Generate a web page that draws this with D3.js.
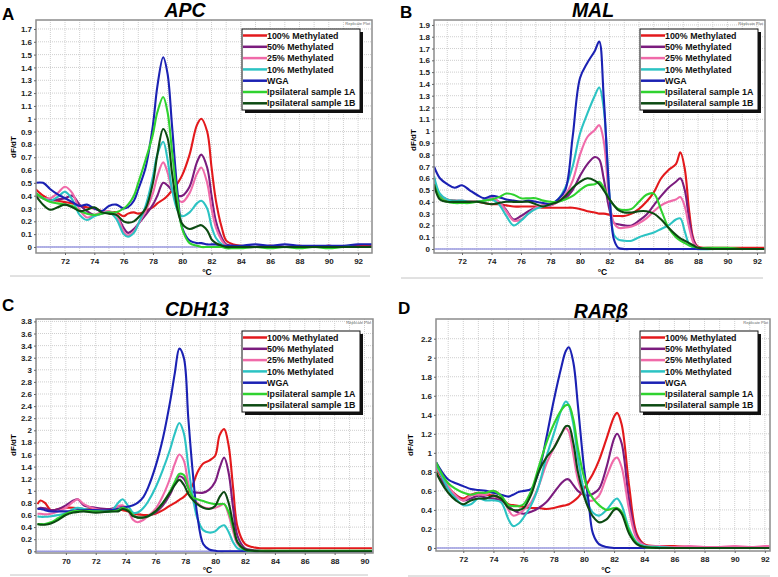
<!DOCTYPE html>
<html><head><meta charset="utf-8">
<script src="https://cdn.jsdelivr.net/npm/d3@7"></script>
<style>body{margin:0;background:#fff}svg{display:block}text{font-family:"Liberation Sans",Arial,sans-serif}</style>
</head><body><svg id="c" width="778" height="577"></svg>
<script>
const seriesNames = ["100% Methylated","50% Methylated","25% Methylated","10% Methylated","WGA","Ipsilateral sample 1A","Ipsilateral sample 1B"];
const seriesColors = ["#e3191c","#7b1c7e","#f06aa9","#2cc3c3","#1b21b3","#2fd22f","#0c4a12"];

// ---------- Panel A : APC ----------
const apcTemps = [70,70.5,71,71.5,72,72.5,73,73.5,74,74.5,75,75.5,76, 76.3,76.7,77,77.5,78,78.3,78.7,79,79.3,79.7, 80,80.5,81,81.3,81.7,82,82.3,82.7,83,83.5, 84,85,86,87,88,89,90,91,92,93];
const apcM100 = [.45,.40,.37,.36,.35,.34,.32,.31,.30,.28,.27,.27,.24, .26,.27,.26,.28,.31,.34,.37,.40,.44,.50, .56,.72,.95,1.00,.90,.62,.36,.15,.05,.02, .01,0,.01,0,.01,0,.01,0,.01,.01];
const apcM50  = [.42,.38,.36,.37,.38,.40,.33,.28,.25,.26,.27,.25,.15, .11,.14,.18,.25,.33,.40,.50,.48,.44,.40, .40,.47,.66,.72,.62,.40,.20,.07,.02,.01, 0,0,.01,0,0,0,.01,0,0,0];
const apcM25  = [.40,.38,.38,.42,.47,.42,.29,.23,.25,.27,.28,.25,.12, .09,.12,.18,.28,.42,.55,.66,.58,.45,.37, .35,.42,.57,.62,.50,.30,.15,.05,.01,0, 0,0,0,0,0,0,0,0,0,0];
const apcM10  = [.42,.38,.36,.39,.43,.37,.25,.21,.24,.26,.27,.22,.10, .08,.11,.18,.32,.55,.72,.82,.68,.45,.28, .24,.27,.34,.36,.30,.16,.07,.02,0,0, 0,0,0,0,0,0,0,0,0,0];
const apcWGA  = [.50,.50,.45,.41,.38,.35,.32,.33,.30,.28,.32,.33,.30, .31,.36,.45,.62,.95,1.25,1.48,1.35,.95,.40, .15,.05,.03,.03,.02,.02,.02,.01,.01,.01, .01,.02,.01,.02,.01,.01,.01,.01,.02,.02];
const apc1A   = [.42,.38,.35,.34,.33,.32,.28,.26,.25,.26,.27,.27,.30, .33,.40,.50,.68,.88,1.05,1.17,1.05,.75,.35, .14,.03,.01,0,0,0,0,0,-.01,-.01, -.01,0,-.01,0,-.01,0,-.01,0,0,0];
const apc1B   = [.40,.33,.29,.31,.33,.31,.28,.29,.31,.27,.26,.25,.20, .19,.20,.23,.30,.50,.72,.92,.85,.58,.28, .18,.14,.16,.17,.13,.06,.03,.01,0,0, 0,0,0,0,0,0,0,0,0,0];
const apcYTicks = [0,0.1,0.2,0.3,0.4,0.5,0.6,0.7,0.8,0.9,1,1.1,1.2,1.3,1.4,1.5,1.6,1.7];
const apcXTicks = [72,74,76,78,80,82,84,86,88,90,92];

// ---------- Panel B : MAL ----------
const malTemps = [70.1,70.5,71,71.5,72,72.5,73,73.5,74,74.5,75,75.5, 76,76.5,77,77.5,78,78.5,79,79.5,80,80.5,81,81.3, 81.6,82,82.3,82.6,83,83.5,84,84.5,85,85.5,86,86.5, 86.8,87.1,87.4,87.7,88,89,90,91,92,92.5];
const malM100 = [.60,.45,.42,.41,.40,.40,.40,.39,.38,.38,.37,.36, .36,.36,.36,.35,.35,.35,.35,.35,.34,.32,.31,.30, .30,.29,.28,.28,.28,.30,.34,.40,.48,.60,.67,.72, .82,.68,.32,.08,.02,.01,.01,.01,.01,.01];
const malM50  = [.60,.44,.41,.40,.40,.40,.40,.41,.43,.40,.33,.25, .28,.32,.35,.37,.37,.40,.43,.50,.62,.72,.78,.76, .60,.33,.22,.21,.20,.20,.24,.29,.37,.45,.52,.57, .60,.50,.25,.07,.01,0,0,0,0,0];
const malM25  = [.60,.44,.41,.41,.41,.40,.40,.41,.43,.40,.32,.24, .25,.30,.35,.37,.37,.40,.46,.58,.80,.95,1.01,1.05, .92,.40,.22,.18,.18,.19,.22,.26,.32,.37,.40,.42, .44,.36,.18,.05,.01,0,0,0,0,0];
const malM10  = [.62,.47,.42,.41,.41,.40,.40,.41,.42,.38,.28,.20, .24,.30,.34,.36,.38,.42,.52,.70,.98,1.15,1.30,1.37, 1.20,.45,.12,.08,.07,.07,.10,.12,.14,.17,.20,.25, .26,.15,.04,.01,0,0,0,0,0,0];
const malWGA  = [.70,.60,.55,.52,.54,.50,.46,.43,.45,.44,.42,.41, .40,.41,.40,.39,.38,.42,.50,.95,1.45,1.58,1.68,1.76, 1.30,.45,.08,.01,0,0,0,0,0,0,0,0, 0,0,0,0,0,0,0,0,0,0];
const mal1A   = [.55,.44,.40,.39,.39,.39,.40,.41,.42,.44,.47,.46, .43,.43,.43,.41,.40,.40,.42,.45,.50,.54,.55,.57, .52,.42,.37,.34,.33,.34,.40,.46,.47,.33,.18,.10, .07,.05,.03,.02,.01,.01,.01,0,0,0];
const mal1B   = [.55,.42,.40,.40,.40,.40,.40,.39,.38,.39,.40,.40, .40,.40,.38,.36,.38,.40,.45,.52,.57,.60,.58,.55, .50,.42,.37,.33,.31,.31,.32,.32,.30,.25,.18,.12, .09,.07,.05,.03,.01,0,0,0,0,0];
const malYTicks = [0,0.1,0.2,0.3,0.4,0.5,0.6,0.7,0.8,0.9,1,1.1,1.2,1.3,1.4,1.5,1.6,1.7,1.8,1.9];
const malXTicks = [72,74,76,78,80,82,84,86,88,90,92];

// ---------- Panel C : CDH13 ----------
const cdhTemps = [68.1,68.3,68.6,69,69.5,70,70.5,70.8,71.2,72,73,73.5, 73.8,74.2,74.5,74.8,75.2,75.5,76,76.5,77,77.3,77.6,77.9, 78.2,78.5,78.8,79.2,79.6,80,80.3,80.6,80.9,81.2,81.5,82, 82.5,83,84,85,86,87,88,89,90,90.5];
const cdhM100 = [.78,.84,.80,.68,.70,.72,.72,.71,.70,.70,.70,.70, .68,.66,.63,.61,.60,.60,.62,.68,.76,.80,.85,.90, .98,1.10,1.30,1.45,1.50,1.58,1.92,2.02,1.75,1.05,.40,.12, .07,.05,.05,.05,.05,.05,.05,.05,.05,.05];
const cdhM50  = [.70,.72,.71,.68,.70,.76,.84,.86,.76,.72,.70,.74, .74,.68,.60,.56,.56,.58,.64,.76,.95,1.12,1.24,1.20, 1.05,.98,.97,.97,1.02,1.15,1.38,1.55,1.30,.72,.25,.05, .02,.01,0,0,0,0,0,0,0,0];
const cdhM25  = [.62,.62,.61,.62,.66,.72,.82,.86,.78,.70,.68,.75, .76,.66,.52,.48,.52,.58,.70,.92,1.22,1.45,1.60,1.50, 1.12,.90,.80,.73,.71,.72,.75,.78,.60,.33,.12,.02, 0,0,0,0,0,0,0,0,0,0];
const cdhM10  = [.58,.57,.57,.58,.60,.63,.70,.72,.70,.67,.66,.80, .86,.74,.64,.64,.72,.82,1.05,1.35,1.70,1.95,2.12,1.95, 1.40,.90,.55,.35,.31,.33,.40,.43,.32,.15,.05,.01, 0,0,0,0,0,0,0,0,0,0];
const cdhWGA  = [.70,.70,.68,.66,.66,.66,.67,.68,.68,.68,.68,.70, .72,.74,.76,.80,.90,1.05,1.40,1.87,2.50,2.95,3.35,3.20, 2.20,1.30,.60,.12,.03,.01,0,0,0,0,0,0, 0,0,0,0,0,0,0,0,0,0];
const cdh1A   = [.45,.45,.45,.48,.55,.62,.66,.67,.67,.66,.66,.68, .72,.68,.60,.56,.56,.58,.66,.80,1.00,1.15,1.28,1.26, 1.05,.90,.86,.83,.80,.78,.78,.78,.65,.40,.15,.02, .01,.01,.01,.01,.01,.01,.01,.01,.01,.01];
const cdh1B   = [.45,.44,.44,.46,.52,.60,.64,.65,.66,.64,.66,.66, .70,.66,.58,.56,.56,.58,.66,.80,.98,1.10,1.18,1.10, .95,.85,.78,.72,.70,.75,.90,.98,.80,.45,.15,.03, .01,0,0,0,0,0,0,0,0,0];
const cdhYTicks = [0,0.2,0.4,0.6,0.8,1,1.2,1.4,1.6,1.8,2,2.2,2.4,2.6,2.8,3,3.2,3.4,3.6,3.8];
const cdhXTicks = [70,72,74,76,78,80,82,84,86,88,90];

// ---------- Panel D : RARβ ----------
const rarTemps = [70.2,70.5,71,71.5,72,72.5,73,73.5,74,74.5,75, 75.3,75.7,76,76.5,77,77.5,78,78.5,78.8,79,79.3, 79.6,80,80.3,80.6,81,81.5,82,82.2,82.5,83,83.5, 84,85,86,87,88,89,90,91,92,92.3];
const rarM100 = [.85,.76,.64,.56,.52,.56,.58,.56,.55,.52,.46, .45,.44,.43,.42,.42,.41,.42,.44,.45,.46,.49, .53,.62,.70,.78,.92,1.15,1.38,1.42,1.30,.65,.15, .04,.02,.02,.01,.01,.01,.01,.01,.01,.01];
const rarM50  = [.78,.72,.62,.55,.50,.52,.55,.53,.52,.50,.44, .40,.37,.36,.38,.42,.48,.58,.68,.72,.72,.66, .60,.56,.55,.57,.62,.85,1.15,1.20,1.10,.50,.12, .03,.01,0,0,0,0,0,0,0,0];
const rarM25  = [.85,.78,.65,.55,.50,.55,.56,.56,.60,.55,.40, .34,.36,.40,.48,.65,.88,1.05,1.20,1.26,1.22,.98, .72,.55,.50,.50,.55,.75,.93,.95,.85,.40,.10, .03,.02,.01,.02,.01,.01,.02,.01,.02,.02];
const rarM10  = [.88,.78,.62,.52,.45,.46,.52,.50,.50,.48,.30, .23,.26,.32,.45,.65,.95,1.20,1.45,1.54,1.50,1.30, .95,.60,.45,.37,.34,.40,.50,.52,.45,.20,.06, .02,.01,0,0,0,0,0,0,0,0];
const rarWGA  = [.90,.82,.72,.68,.65,.62,.61,.60,.58,.56,.54, .56,.59,.60,.62,.80,1.15,1.55,1.90,2.07,2.11,1.95, 1.50,.85,.50,.15,.04,.01,0,0,0,0,0, 0,0,0,0,0,0,0,0,0,0];
const rar1A   = [.90,.80,.68,.62,.58,.56,.58,.58,.60,.55,.45, .44,.44,.46,.60,.85,1.10,1.30,1.45,1.50,1.50,1.35, 1.05,.75,.60,.52,.45,.40,.42,.42,.38,.18,.05, .01,0,0,0,0,0,0,0,0,0];
const rar1B   = [.80,.70,.58,.50,.46,.50,.52,.52,.55,.52,.42, .40,.40,.42,.56,.80,.95,1.05,1.20,1.28,1.28,1.10, .80,.55,.42,.33,.27,.30,.40,.41,.36,.15,.04, .01,0,0,0,0,0,0,0,0,0];
const rarYTicks = [0,0.2,0.4,0.6,0.8,1,1.2,1.4,1.6,1.8,2,2.2];
const rarXTicks = [72,74,76,78,80,82,84,86,88,90,92];

const panels = [
  {letter:"A", title:"APC", temps:apcTemps, series:[apcM100,apcM50,apcM25,apcM10,apcWGA,apc1A,apc1B], yTicks:apcYTicks, xTicks:apcXTicks,
   xDom:[70.02,92.95], yDom:[-0.047,1.77], L:36, R:372, T:20, B:253, letterPos:[2,20], titleX:185, titleY:17, ylabX:13, ylabY:147,
   xlabY:275, leg:[242,29], scroll:[10,370,276]},
  {letter:"B", title:"MAL", temps:malTemps, series:[malM100,malM50,malM25,malM10,malWGA,mal1A,mal1B], yTicks:malYTicks, xTicks:malXTicks,
   xDom:[70.1,92.54], yDom:[-0.034,1.942], L:434, R:765, T:20, B:253, letterPos:[400,18], titleX:593, titleY:17, ylabX:413, ylabY:140,
   xlabY:275, leg:[640,29], scroll:[401,763,278]},
  {letter:"C", title:"CDH13", temps:cdhTemps, series:[cdhM100,cdhM50,cdhM25,cdhM10,cdhWGA,cdh1A,cdh1B], yTicks:cdhYTicks, xTicks:cdhXTicks,
   xDom:[68.0,90.57], yDom:[-0.028,3.84], L:36, R:373, T:319, B:553, letterPos:[2,311], titleX:197, titleY:316, ylabX:13, ylabY:445,
   xlabY:573, leg:[242,331], scroll:[10,368,575]},
  {letter:"D", title:"RARβ", temps:rarTemps, series:[rarM100,rarM50,rarM25,rarM10,rarWGA,rar1A,rar1B], yTicks:rarYTicks, xTicks:rarXTicks,
   xDom:[70.19,92.34], yDom:[-0.032,2.407], L:436, R:770, T:319, B:551, letterPos:[398,314], titleX:601, titleY:318, ylabX:410, ylabY:445,
   xlabY:573, leg:[640,331], scroll:[408,770,576]}
];

const svg = d3.select("#c");
const fmt = v => String(Math.round(v*10)/10);

panels.forEach((p, pi) => {
  const x = d3.scaleLinear().domain(p.xDom).range([p.L, p.R]);
  const y = d3.scaleLinear().domain(p.yDom).range([p.B, p.T]);
  const g = svg.append("g");

  g.append("text").attr("x", p.letterPos[0]).attr("y", p.letterPos[1]).attr("font-size", 17).attr("font-weight", "bold").text(p.letter);
  g.append("text").attr("x", p.titleX).attr("y", p.titleY).attr("text-anchor", "middle").attr("font-size", 19.5)
    .attr("font-weight", "bold").attr("font-style", "italic").text(p.title);

  // grid
  const vt = d3.range(Math.ceil(p.xDom[0]), Math.floor(p.xDom[1]) + 1);
  g.append("g").selectAll("line").data(vt).join("line")
    .attr("x1", d => x(d)).attr("x2", d => x(d)).attr("y1", p.T).attr("y2", p.B)
    .attr("stroke", "#cfcfcf").attr("stroke-width", 1).attr("stroke-dasharray", "1,1");
  g.append("g").selectAll("line").data(p.yTicks).join("line")
    .attr("x1", p.L).attr("x2", p.R).attr("y1", d => y(d)).attr("y2", d => y(d))
    .attr("stroke", "#cfcfcf").attr("stroke-width", 1).attr("stroke-dasharray", "1,1");

  const cid = "clip" + pi;
  svg.append("clipPath").attr("id", cid).append("rect")
    .attr("x", p.L).attr("y", p.T).attr("width", p.R - p.L).attr("height", p.B - p.T);
  const pg = g.append("g").attr("clip-path", `url(#${cid})`);

  pg.append("line").attr("x1", p.L).attr("x2", p.R).attr("y1", y(0)).attr("y2", y(0))
    .attr("stroke", "#9a9ae0").attr("stroke-width", 1.5);

  const line = d3.line().x((d, i) => x(p.temps[i])).y(d => y(d)).curve(d3.curveCatmullRom.alpha(0.5));
  p.series.forEach((s, si) => {
    pg.append("path").attr("d", line(s)).attr("fill", "none")
      .attr("stroke", seriesColors[si]).attr("stroke-width", 2.1).attr("stroke-linejoin", "round");
  });

  g.append("rect").attr("x", p.L).attr("y", p.T).attr("width", p.R - p.L).attr("height", p.B - p.T)
    .attr("fill", "none").attr("stroke", "#8c8c8c").attr("stroke-width", 1.5);
  g.append("text").attr("x", p.R - 2).attr("y", p.T + 5).attr("text-anchor", "end").attr("font-size", 4)
    .attr("fill", "#666").text("Replicate Plot");

  const ya = g.append("g").attr("transform", `translate(${p.L},0)`)
    .call(d3.axisLeft(y).tickValues(p.yTicks).tickSize(2).tickPadding(2).tickFormat(fmt));
  const xa = g.append("g").attr("transform", `translate(0,${p.B})`)
    .call(d3.axisBottom(x).tickValues(p.xTicks).tickSize(2).tickPadding(3).tickFormat(d => d));
  [ya, xa].forEach(a => {
    a.select(".domain").remove();
    a.selectAll(".tick line").attr("stroke", "#666");
    a.selectAll("text").attr("font-size", 8).attr("font-weight", "bold").attr("fill", "#222")
      .attr("font-family", '"Liberation Sans",Arial,sans-serif');
  });

  g.append("text").attr("x", (p.L + p.R) / 2 + 3).attr("y", p.xlabY).attr("text-anchor", "middle")
    .attr("font-size", 8.5).attr("font-weight", "bold").text("°C");
  g.append("text").attr("transform", `translate(${p.ylabX},${p.ylabY}) rotate(-90)`).attr("text-anchor", "middle")
    .attr("dy", "0.35em").attr("font-size", 8).attr("font-weight", "bold").text("dF/dT");

  g.append("line").attr("x1", p.scroll[0]).attr("x2", p.scroll[1]).attr("y1", p.scroll[2]).attr("y2", p.scroll[2])
    .attr("stroke", "#c4c4c4").attr("stroke-width", 1);

  // legend
  const lx = p.leg[0], ly = p.leg[1], lw = 118, lh = 81;
  const lg = g.append("g");
  lg.append("rect").attr("x", lx + 3).attr("y", ly + 3).attr("width", lw).attr("height", lh).attr("fill", "#111");
  lg.append("rect").attr("x", lx).attr("y", ly).attr("width", lw).attr("height", lh).attr("fill", "#fff")
    .attr("stroke", "#111").attr("stroke-width", 1);
  seriesNames.forEach((n, i) => {
    const yy = ly + 6.5 + i * 11.3;
    lg.append("line").attr("x1", lx + 1).attr("x2", lx + 25).attr("y1", yy).attr("y2", yy)
      .attr("stroke", seriesColors[i]).attr("stroke-width", 2.5);
    lg.append("text").attr("x", lx + 25).attr("y", yy).attr("dy", "0.35em").attr("font-size", 8.9)
      .attr("font-weight", "bold").attr("fill", "#111").text(n);
  });
});
</script></body></html>
